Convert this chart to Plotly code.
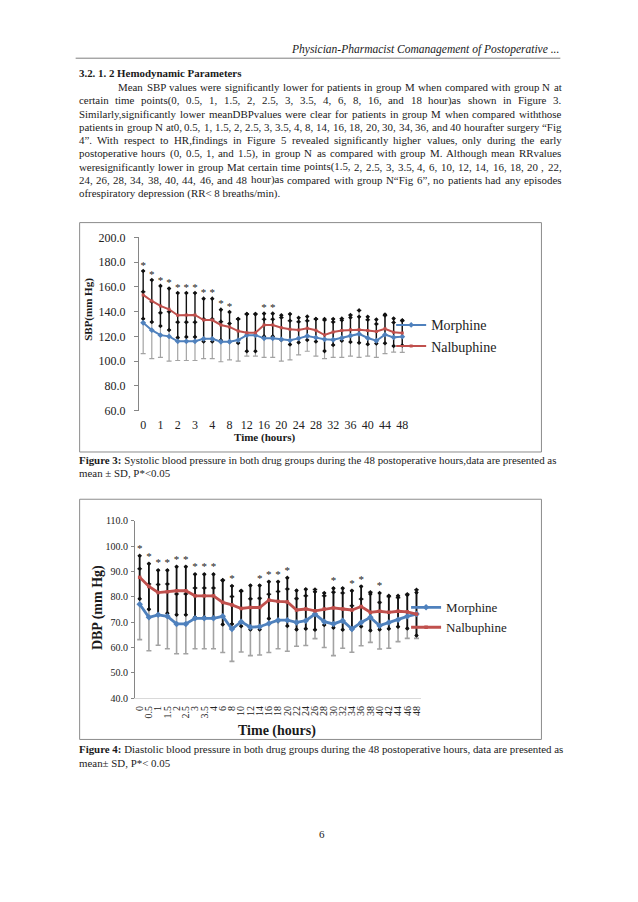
import plotly.graph_objects as go

W, H = 638, 902
SERIF = "Liberation Serif, Times New Roman, serif"
BLUE = "#4F81BD"
RED = "#C0504D"

def fx(p):
    return p / W

def fy(p):
    return 1 - p / H

# ---------------- data ----------------
hours = ["0", "0.5", "1", "1.5", "2", "2.5", "3", "3.5", "4", "6", "8", "10", "12", "14", "16",
         "18", "20", "22", "24", "26", "28", "30", "32", "34", "36", "38", "40", "42", "44", "46", "48"]

sbp_morphine = [131, 125, 121, 120, 116, 116, 116, 118, 118, 115.7, 115.7, 117, 121, 121, 118.4,
                118.4, 117.6, 116.8, 118.4, 120.3, 119, 117.6, 117.3, 118.7, 120.6, 122, 118.7,
                116.5, 121.4, 119.2, 119.8]
sbp_nalbuphine = [153.5, 148.6, 144.6, 141.9, 137, 137.3, 137.3, 133.2, 133.2, 129.2, 127.6, 124.3,
                  123, 123, 129.2, 129.2, 127, 125.7, 125.1, 126.5, 124.9, 121.1, 123.5, 124.7,
                  125.3, 125.3, 124.7, 123.9, 126.1, 123.3, 122.8]
sbp_morphine_sd = [25, 23, 18, 20, 15.5, 15.5, 15.5, 16, 16, 16.2, 14.7, 17, 17, 17, 15.4, 15.4,
                   17.6, 15.8, 13.4, 12.3, 15, 15.6, 14.3, 15.7, 16.6, 19, 14.7, 13.5, 15.4, 12, 12.8]
sbp_nalbuphine_sd = [19.3, 17, 16.2, 16.8, 18, 17.7, 17.7, 17.3, 17.3, 12.4, 12, 9.7, 15, 15, 9.2,
                     9.2, 10, 12.3, 10, 9.5, 9.1, 13, 10.5, 8.3, 9.9, 10.5, 11.1, 9.7, 11.6, 11.1, 10.2]
sbp_significant = ["0", "0.5", "1", "1.5", "2", "2.5", "3", "3.5", "4", "6", "8", "16", "18"]

dbp_morphine = [77.1, 71.9, 72.9, 72.3, 69.3, 69.3, 71.5, 71.5, 71.5, 72.3, 67.3, 70.2, 68, 68.2,
                69.5, 70.8, 70.8, 69.9, 70.6, 73.2, 70.2, 69.3, 70.6, 67.3, 69.9, 71.9, 68.6, 69.9,
                71, 72.3, 73.2]
dbp_nalbuphine = [87.7, 84.1, 81.7, 82, 82.4, 82.4, 80.4, 80.4, 80.4, 77.8, 76.8, 75.4, 75.8, 75.8,
                  78.7, 78.2, 78, 74.8, 75.2, 74.5, 75.2, 75.6, 75.2, 74.8, 76.2, 73.9, 74.3, 73.9,
                  74.3, 74.1, 73.2]
dbp_morphine_sd = [14, 13.2, 12, 12.8, 11.8, 11.8, 12, 12, 12, 14.3, 12.8, 12, 11.2, 11.2, 11.5,
                   11.3, 12.3, 9.4, 9.8, 9.7, 10.2, 12.5, 10.9, 9.2, 9.2, 9.9, 9.2, 10.2, 8.7, 8.7, 9.6]
dbp_nalbuphine_sd = [8.5, 9, 8.8, 8.5, 9.5, 9.5, 8.5, 8.5, 8.5, 8.7, 7.5, 7, 8.7, 8.7, 7.3, 7.8,
                     9.5, 7.7, 7.8, 7.5, 6.3, 7.8, 8.2, 7.6, 7.9, 7.2, 7.2, 6.5, 6.1, 6.6, 8.5]
dbp_significant = ["0", "0.5", "1", "1.5", "2", "2.5", "3", "3.5", "4", "8", "14", "16", "18", "20",
                   "30", "34", "36", "40"]

header_text = "Physician-Pharmacist Comanagement of Postoperative ..."
heading_text = "3.2. 1. 2 Hemodynamic Parameters"
paragraph_lines = [
    "Mean SBP values were significantly lower for patients in group M when compared with group N at",
    "certain time points(0, 0.5, 1, 1.5, 2, 2.5, 3, 3.5, 4, 6, 8, 16, and 18 hour)as shown in Figure 3.",
    "Similarly,significantly lower meanDBPvalues were clear for patients in group M when compared withthose",
    "patients in group N at0, 0.5, 1, 1.5, 2, 2.5, 3, 3.5, 4, 8, 14, 16, 18, 20, 30, 34, 36, and 40 hourafter surgery \u201cFig",
    "4\u201d. With respect to HR,findings in Figure 5 revealed significantly higher values, only during the early",
    "postoperative hours (0, 0.5, 1, and 1.5), in group N as compared with group M. Although mean RRvalues",
    "weresignificantly lower in group Mat certain time points(1.5, 2, 2.5, 3, 3.5, 4, 6, 10, 12, 14, 16, 18, 20 , 22,",
    "24, 26, 28, 34, 38, 40, 44, 46, and 48 hour)as compared with group N\u201cFig 6\u201d, no patients had any episodes",
    "ofrespiratory depression (RR< 8 breaths/min).",
]
caption3 = ["<b>Figure 3:</b> Systolic blood pressure in both drug groups during the 48 postoperative hours,data are presented as",
            "mean \u00b1 SD, P*<0.05"]
caption4 = ["<b>Figure 4:</b> Diastolic blood pressure in both drug groups during the 48 postoperative hours, data are presented as",
            "mean\u00b1 SD, P*< 0.05"]
page_number = "6"

# ---------------- text helpers ----------------
_TW = {' ': 250, ',': 250, '.': 250, '(': 333, ')': 333, '-': 333, ':': 278, ';': 278, '<': 564,
       '/': 278, '\u201c': 444, '\u201d': 444, '"': 408, '*': 500, '\u00b1': 564}
for ch, w in zip("abcdefghijklmnopqrstuvwxyz",
                 [444, 500, 444, 500, 444, 333, 500, 500, 278, 278, 500, 278, 778, 500, 500, 500,
                  500, 333, 389, 278, 500, 500, 722, 500, 500, 444]):
    _TW[ch] = w
for ch, w in zip("ABCDEFGHIJKLMNOPQRSTUVWXYZ",
                 [722, 667, 667, 722, 611, 556, 722, 722, 333, 389, 722, 611, 889, 722, 722, 556,
                  722, 667, 556, 611, 722, 722, 944, 722, 722, 611]):
    _TW[ch] = w


def text_width(s, size):
    return sum(_TW.get(c, 500) for c in s) * size / 1000.0


def esc(s):
    return s.replace("&", "&amp;").replace("<", "&lt;").replace(">", "&gt;")


annotations = []
TXT = "#1a1a1a"
FS = 10.9


def add_text(text, x, y, size=FS, anchor="left", angle=0, color=TXT):
    annotations.append(dict(x=fx(x), y=fy(y), xref="paper", yref="paper", text=text,
                            showarrow=False, xanchor=anchor, yanchor="middle", textangle=angle,
                            borderpad=0, font=dict(family=SERIF, size=size, color=color)))


def add_justified(line, y, x0, x1, size=FS):
    words = line.split()
    widths = [text_width(w, size) for w in words]
    gap = (x1 - x0 - sum(widths)) / max(len(words) - 1, 1)
    x = x0
    for w, wd in zip(words, widths):
        add_text(esc(w), x, y, size)
        x += wd + gap


# header + paragraph
add_text("<i>" + header_text + "</i>", 562, 43, size=11.5, anchor="right")
add_text("<b>" + heading_text + "</b>", 77, 67.5)
LINE_H = 13.45
for i, line in enumerate(paragraph_lines):
    y = 81.5 + LINE_H * i
    x0 = 117 if i == 0 else 77
    if i < len(paragraph_lines) - 1:
        add_justified(line, y, x0, 562)
    else:
        add_text(esc(line), x0, y)

# captions
add_text(caption3[0], 77, 460)
add_text(esc(caption3[1]), 77, 473.5)
add_text(caption4[0], 77, 754)
add_text(esc(caption4[1]), 77, 767.5)
add_text(page_number, 318, 840, size=11)

# axis titles
add_text("<b>SBP(mm Hg)</b>", 88, 307, size=11, anchor="center", angle=-90)
add_text("<b>Time (hours)</b>", 265, 437, size=11, anchor="center")
add_text("<b>DBP (mm Hg)</b>", 97, 610, size=14, anchor="center", angle=-90)
add_text("<b>Time (hours)</b>", 277, 735, size=14, anchor="center")

# ---------------- traces ----------------
fig = go.Figure()


def add_chart(xa, ya, legend, morph, nal, morph_sd, nal_sd, sig, star_off, lw, msize, bar_t):
    # morphine SD bars (grey)
    fig.add_trace(go.Scatter(x=hours, y=morph, mode="markers", xaxis=xa, yaxis=ya,
                             marker=dict(size=1, color="rgba(0,0,0,0)"), showlegend=False, hoverinfo="skip",
                             error_y=dict(type="data", array=morph_sd, symmetric=True, color="#a3a3a3",
                                          thickness=bar_t, width=2.5)))
    # nalbuphine SD bars (black)
    fig.add_trace(go.Scatter(x=hours, y=nal, mode="markers", xaxis=xa, yaxis=ya,
                             marker=dict(size=1, color="rgba(0,0,0,0)"), showlegend=False, hoverinfo="skip",
                             error_y=dict(type="data", array=nal_sd, symmetric=True, color="#111111",
                                          thickness=bar_t + 0.2, width=1.5)))
    # end points of bars
    dots_x = hours * 3
    dots_y = ([n + s for n, s in zip(nal, nal_sd)] + [n - s for n, s in zip(nal, nal_sd)]
              + [m + s for m, s in zip(morph, morph_sd)])
    fig.add_trace(go.Scatter(x=dots_x, y=dots_y, mode="markers", xaxis=xa, yaxis=ya,
                             marker=dict(symbol="diamond", size=3.5, color="#111111"),
                             showlegend=False, hoverinfo="skip"))
    # mean lines
    fig.add_trace(go.Scatter(x=hours, y=morph, mode="lines+markers", name="Morphine", xaxis=xa, yaxis=ya,
                             line=dict(color=BLUE, width=lw), marker=dict(symbol="diamond", size=msize, color=BLUE),
                             legend=legend))
    fig.add_trace(go.Scatter(x=hours, y=nal, mode="lines+markers", name="Nalbuphine", xaxis=xa, yaxis=ya,
                             line=dict(color=RED, width=lw), marker=dict(symbol="square", size=msize - 1.5, color=RED),
                             legend=legend))
    # significance asterisks
    top = {h: max(n + sn, m + sm) for h, n, sn, m, sm in zip(hours, nal, nal_sd, morph, morph_sd)}
    fig.add_trace(go.Scatter(x=sig, y=[top[h] + star_off for h in sig], mode="text", text=["*"] * len(sig),
                             xaxis=xa, yaxis=ya, textfont=dict(family=SERIF, size=11, color="#222"),
                             showlegend=False, hoverinfo="skip"))


add_chart("x", "y", "legend", sbp_morphine, sbp_nalbuphine, sbp_morphine_sd, sbp_nalbuphine_sd,
          sbp_significant, 4, 2, 4.5, 1.2)
add_chart("x2", "y2", "legend2", dbp_morphine, dbp_nalbuphine, dbp_morphine_sd, dbp_nalbuphine_sd,
          dbp_significant, 2.6, 2.8, 5, 1.6)

axis_common = dict(showgrid=False, zeroline=False, type="category", categoryorder="array",
                   categoryarray=hours, range=[-0.5, len(hours) - 0.5], fixedrange=True)

fig.update_layout(
    width=W, height=H, margin=dict(l=0, r=0, t=0, b=0),
    paper_bgcolor="white", plot_bgcolor="white",
    xaxis=dict(domain=[fx(138.5), fx(407.5)], anchor="y", tickmode="array",
               tickvals=hours[::2], ticktext=hours[::2], ticks="", showline=False,
               tickfont=dict(family=SERIF, size=12, color="#222"), ticklabelstandoff=5, **axis_common),
    yaxis=dict(domain=[fy(410), fy(234)], anchor="x", range=[60, 200], tick0=60, dtick=20,
               tickformat=".1f", showline=True, linecolor="#868686", linewidth=1, ticks="outside",
               ticklen=4, tickcolor="#868686", showgrid=False, zeroline=False, ticklabelstandoff=6,
               tickfont=dict(family=SERIF, size=12, color="#222")),
    xaxis2=dict(domain=[fx(134.7), fx(422.1)], anchor="y2", tickmode="array", tickvals=hours,
                ticktext=hours, tickangle=-90, ticks="", showline=True, linecolor="#d9d9d9",
                tickfont=dict(family=SERIF, size=10, color="#222"), ticklabelstandoff=3, **axis_common),
    yaxis2=dict(domain=[fy(702), fy(522)], anchor="x2", range=[40, 110], tick0=40, dtick=10,
                tickformat=".1f", showline=True, linecolor="#868686", linewidth=1, ticks="outside",
                ticklen=3, tickcolor="#868686", showgrid=False, zeroline=False, ticklabelstandoff=1,
                tickfont=dict(family=SERIF, size=10, color="#222")),
    legend=dict(x=fx(392), y=fy(334), xanchor="left", yanchor="middle", itemwidth=30,
                font=dict(family=SERIF, size=14, color="#222"), bgcolor="rgba(0,0,0,0)"),
    legend2=dict(x=fx(407), y=fy(620), xanchor="left", yanchor="middle", itemwidth=30,
                 font=dict(family=SERIF, size=13, color="#222"), bgcolor="rgba(0,0,0,0)"),
    annotations=annotations,
    shapes=[
        dict(type="line", xref="paper", yref="paper", x0=fx(75), x1=fx(562), y0=fy(52), y1=fy(52),
             line=dict(color="#7f7f7f", width=1)),
        dict(type="rect", xref="paper", yref="paper", x0=fx(79), x1=fx(543), y0=fy(452), y1=fy(219),
             line=dict(color="#8c8c8c", width=1)),
        dict(type="rect", xref="paper", yref="paper", x0=fx(79), x1=fx(543), y0=fy(744), y1=fy(500),
             line=dict(color="#8c8c8c", width=1)),
    ],
)

fig.write_html("out.html", config={"displayModeBar": False},
               post_script="document.body.style.margin='0';")
